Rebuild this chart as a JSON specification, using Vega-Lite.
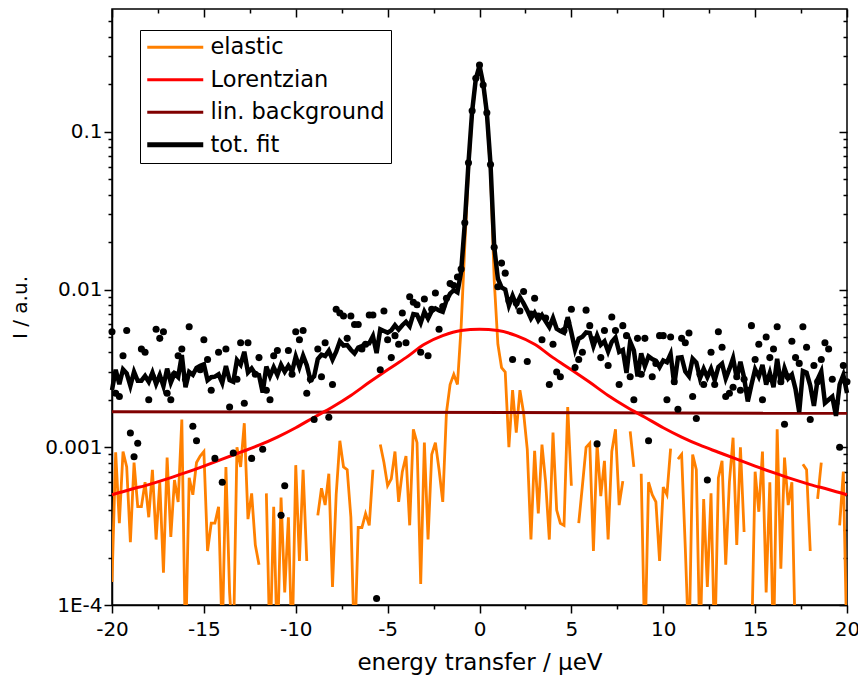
{
"$schema": "https://vega.github.io/schema/vega-lite/v6.json",
"width": 735, "height": 596,
"autosize": {"type": "none"},
"padding": {"left": 112, "top": 9, "right": 11, "bottom": 81},
"background": "white",
"datasets": {
"main": [
{"x":-20,"e":0.00014,"f":0.0023,"o":0.0054},
{"x":-19.8,"e":0.00093,"f":0.0031,"o":0.0022},
{"x":-19.6,"e":0.00033,"f":0.00251,"o":0.0021},
{"x":-19.4,"e":0.00094,"f":0.00312,"o":0.0038},
{"x":-19.2,"e":0.00075,"f":0.00294,"o":0.0055},
{"x":-19,"e":0.00025,"f":0.00245,"o":0.00123},
{"x":-18.8,"e":0.0008,"f":0.00301,"o":0.00087},
{"x":-18.6,"e":0.00042,"f":0.00264,"o":0.00106},
{"x":-18.4,"e":0.00042,"f":0.00264,"o":0.0042},
{"x":-18.2,"e":0.0006,"f":0.00283,"o":0.004},
{"x":-18,"e":0.00036,"f":0.0026,"o":0.002},
{"x":-17.8,"e":0.00072,"f":0.00297,"o":0.0028},
{"x":-17.6,"e":0.00026,"f":0.00252,"o":0.0056},
{"x":-17.4,"e":0.0006,"f":0.00287,"o":0.0049},
{"x":-17.2,"e":0.00016,"f":0.00244,"o":0.0054},
{"x":-17,"e":0.00086,"f":0.00315,"o":0.0022},
{"x":-16.8,"e":0.00027,"f":0.00257,"o":0.002},
{"x":-16.6,"e":0.00062,"f":0.00293,"o":0.0029},
{"x":-16.4,"e":0.00045,"f":0.00278,"o":0.0038},
{"x":-16.2,"e":0.0015,"f":0.00384,"o":0.0042},
{"x":-16,"e":0.00005,"f":0.0024,"o":0.0027},
{"x":-15.8,"e":0.00064,"f":0.003,"o":0.0058},
{"x":-15.6,"e":0.0005,"f":0.00288,"o":0.00136},
{"x":-15.4,"e":0.0008,"f":0.00319,"o":0.0011},
{"x":-15.2,"e":0.00088,"f":0.00329,"o":0.0031},
{"x":-15,"e":0.00094,"f":0.00336,"o":0.0048},
{"x":-14.8,"e":0.00022,"f":0.00266,"o":0.0036},
{"x":-14.6,"e":0.00033,"f":0.00278,"o":0.0023},
{"x":-14.4,"e":0.00033,"f":0.0028,"o":0.00085},
{"x":-14.2,"e":0.00042,"f":0.0029,"o":0.004},
{"x":-14,"e":0.00006,"f":0.00256,"o":0.0006},
{"x":-13.8,"e":0.00075,"f":0.00327,"o":0.0042},
{"x":-13.6,"e":0.00012,"f":0.00266,"o":0.0018},
{"x":-13.4,"e":0.00005,"f":0.0026,"o":0.00092},
{"x":-13.2,"e":0.001,"f":0.00357,"o":0.0027},
{"x":-13,"e":0.00075,"f":0.00334,"o":0.0046},
{"x":-12.8,"e":0.00142,"f":0.00403,"o":0.0019},
{"x":-12.6,"e":0.00035,"f":0.00298,"o":0.0046},
{"x":-12.4,"e":0.00051,"f":0.00316,"o":0.00085},
{"x":-12.2,"e":0.00024,"f":0.00291,"o":0.0029},
{"x":-12,"e":0.00018,"f":0.00287,"o":0.0037},
{"x":-11.8,"e":null,"f":0.00222,"o":0.00097},
{"x":-11.6,"e":0.00051,"f":0.00325,"o":0.0023},
{"x":-11.4,"e":0.00005,"f":0.00282,"o":0.002},
{"x":-11.2,"e":0.00042,"f":0.00321,"o":0.0038},
{"x":-11,"e":0.00005,"f":0.00287,"o":0.0041},
{"x":-10.8,"e":0.00048,"f":0.00333,"o":0.00037},
{"x":-10.6,"e":0.00012,"f":0.00301,"o":0.00057},
{"x":-10.4,"e":0.00036,"f":0.00328,"o":0.0041},
{"x":-10.2,"e":0.00005,"f":0.00301,"o":0.0029},
{"x":-10,"e":0.00077,"f":0.00376,"o":0.0054},
{"x":-9.8,"e":0.00019,"f":0.00322,"o":0.0048},
{"x":-9.6,"e":0.00072,"f":0.0038,"o":0.0055},
{"x":-9.4,"e":0.00019,"f":0.00331,"o":0.0022},
{"x":-9.2,"e":null,"f":0.00267,"o":0.0027},
{"x":-9,"e":null,"f":0.00281,"o":0.0015},
{"x":-8.8,"e":0.00037,"f":0.00363,"o":0.0042},
{"x":-8.6,"e":0.00055,"f":0.00386,"o":0.0028},
{"x":-8.4,"e":0.00043,"f":0.00379,"o":0.0046},
{"x":-8.2,"e":0.00068,"f":0.00409,"o":0.00155},
{"x":-8,"e":0.00013,"f":0.00359,"o":0.0025},
{"x":-7.8,"e":0.0005,"f":0.00403,"o":0.0075},
{"x":-7.6,"e":0.0011,"f":0.00469,"o":0.0071},
{"x":-7.4,"e":0.00075,"f":0.00441,"o":0.0068},
{"x":-7.2,"e":0.00072,"f":0.00444,"o":0.0049},
{"x":-7,"e":0.00036,"f":0.00415,"o":0.0068},
{"x":-6.8,"e":0.00005,"f":0.00393,"o":0.006},
{"x":-6.6,"e":0.00031,"f":0.00428,"o":0.006},
{"x":-6.4,"e":0.00031,"f":0.00437,"o":0.0042},
{"x":-6.2,"e":0.00038,"f":0.00453,"o":0.0045},
{"x":-6,"e":0.00032,"f":0.00456,"o":0.0069},
{"x":-5.8,"e":0.00072,"f":0.00506,"o":0.0069},
{"x":-5.6,"e":null,"f":0.00395,"o":0.00011},
{"x":-5.4,"e":0.00104,"f":0.00559,"o":0.0031},
{"x":-5.2,"e":0.0008,"f":0.00546,"o":0.0073},
{"x":-5,"e":0.00057,"f":0.00533,"o":0.0048},
{"x":-4.8,"e":0.00063,"f":0.00551,"o":0.0037},
{"x":-4.6,"e":0.00094,"f":0.00594,"o":0.0051},
{"x":-4.4,"e":0.00045,"f":0.00557,"o":0.0045},
{"x":-4.2,"e":0.0007,"f":0.00594,"o":0.0071},
{"x":-4,"e":0.00088,"f":0.00624,"o":0.0046},
{"x":-3.8,"e":0.00032,"f":0.00584,"o":0.009},
{"x":-3.6,"e":0.0013,"f":0.00698,"o":0.0083},
{"x":-3.4,"e":0.00107,"f":0.00691,"o":0.008},
{"x":-3.2,"e":0.000136,"f":0.00614,"o":0.004},
{"x":-3,"e":0.00107,"f":0.00723,"o":0.0087},
{"x":-2.8,"e":0.00026,"f":0.00654,"o":0.0038},
{"x":-2.6,"e":0.0009,"f":0.0073,"o":0.0075},
{"x":-2.4,"e":0.00107,"f":0.00759,"o":0.0095},
{"x":-2.2,"e":0.00072,"f":0.00736,"o":0.0056},
{"x":-2,"e":0.00045,"f":0.00721,"o":0.0078},
{"x":-1.8,"e":0.00166,"f":0.0085,"o":0.0088},
{"x":-1.6,"e":0.0025,"f":0.00942,"o":0.0109},
{"x":-1.4,"e":0.0029,"f":0.0099,"o":0.0106},
{"x":-1.2,"e":0.0025,"f":0.00958,"o":0.012},
{"x":-1,"e":0.0058,"f":0.01296,"o":0.0135},
{"x":-0.8,"e":0.019,"f":0.0262,"o":0.0265},
{"x":-0.6,"e":0.056,"f":0.0632,"o":0.0635},
{"x":-0.4,"e":0.128,"f":0.135,"o":0.136},
{"x":-0.2,"e":0.21,"f":0.217,"o":0.218},
{"x":0,"e":0.255,"f":0.262,"o":0.265},
{"x":0.2,"e":0.195,"f":0.202,"o":0.198},
{"x":0.4,"e":0.125,"f":0.132,"o":0.132},
{"x":0.6,"e":0.055,"f":0.0622,"o":0.062},
{"x":0.8,"e":0.0115,"f":0.0187,"o":0.0185},
{"x":1,"e":0.0045,"f":0.0117,"o":0.0104},
{"x":1.2,"e":0.0032,"f":0.0103,"o":0.0147},
{"x":1.4,"e":0.003,"f":0.01,"o":0.0127},
{"x":1.6,"e":0.001,"f":0.00792,"o":0.0085},
{"x":1.8,"e":0.0023,"f":0.00914,"o":0.0036},
{"x":2,"e":0.00124,"f":0.008,"o":0.0082},
{"x":2.2,"e":0.0023,"f":0.00894,"o":0.0073},
{"x":2.4,"e":0.00165,"f":0.00817,"o":0.0097},
{"x":2.6,"e":0.00097,"f":0.00737,"o":0.0035},
{"x":2.8,"e":0.00026,"f":0.00654,"o":0.007},
{"x":3,"e":0.00095,"f":0.00711,"o":0.0088},
{"x":3.2,"e":0.00038,"f":0.00638,"o":0.0068},
{"x":3.4,"e":0.00104,"f":0.00688,"o":0.0048},
{"x":3.6,"e":0.0006,"f":0.00628,"o":0.0066},
{"x":3.8,"e":0.00026,"f":0.00578,"o":0.0025},
{"x":4,"e":0.00124,"f":0.0066,"o":0.0045},
{"x":4.2,"e":0.0004,"f":0.00564,"o":0.003},
{"x":4.4,"e":0.00033,"f":0.00545,"o":0.0028},
{"x":4.6,"e":0.00032,"f":0.00532,"o":0.0055},
{"x":4.8,"e":0.0018,"f":0.00668,"o":0.0062},
{"x":5,"e":0.00057,"f":0.00533,"o":0.0075},
{"x":5.2,"e":null,"f":0.00416,"o":0.0032},
{"x":5.4,"e":0.00033,"f":0.00488,"o":0.0036},
{"x":5.6,"e":0.00057,"f":0.00502,"o":0.004},
{"x":5.8,"e":0.001,"f":0.00534,"o":0.0074},
{"x":6,"e":0.00106,"f":0.0053,"o":0.0059},
{"x":6.2,"e":0.00022,"f":0.00437,"o":0.0048},
{"x":6.4,"e":0.00105,"f":0.00511,"o":0.00105},
{"x":6.6,"e":0.00049,"f":0.00446,"o":0.0037},
{"x":6.8,"e":0.00082,"f":0.0047,"o":0.0055},
{"x":7,"e":0.00026,"f":0.00405,"o":0.0033},
{"x":7.2,"e":0.00094,"f":0.00466,"o":0.0067},
{"x":7.4,"e":0.0013,"f":0.00496,"o":0.0055},
{"x":7.6,"e":0.00043,"f":0.00402,"o":0.0025},
{"x":7.8,"e":0.00061,"f":0.00414,"o":0.0059},
{"x":8,"e":null,"f":0.00296,"o":0.0051},
{"x":8.2,"e":0.00126,"f":0.00467,"o":0.0028},
{"x":8.4,"e":0.00075,"f":0.00411,"o":0.002},
{"x":8.6,"e":null,"f":0.00281,"o":0.0049},
{"x":8.8,"e":0.00068,"f":0.00394,"o":0.0029},
{"x":9,"e":0.00005,"f":0.00326,"o":0.0049},
{"x":9.2,"e":0.0006,"f":0.00377,"o":0.0011},
{"x":9.4,"e":0.0005,"f":0.00362,"o":0.0028},
{"x":9.6,"e":0.00045,"f":0.00353,"o":0.0034},
{"x":9.8,"e":0.00019,"f":0.00322,"o":0.0051},
{"x":10,"e":0.00056,"f":0.00355,"o":0.0051},
{"x":10.2,"e":0.0005,"f":0.00346,"o":0.002},
{"x":10.4,"e":0.00098,"f":0.0039,"o":0.005},
{"x":10.6,"e":null,"f":0.00249,"o":0.0026},
{"x":10.8,"e":0.00084,"f":0.00369,"o":0.00174},
{"x":11,"e":0.0009,"f":0.00372,"o":0.0049},
{"x":11.2,"e":0.00023,"f":0.00302,"o":0.0046},
{"x":11.4,"e":0.00005,"f":0.00282,"o":0.0053},
{"x":11.6,"e":0.0009,"f":0.00364,"o":0.0021},
{"x":11.8,"e":0.00072,"f":0.00344,"o":0.00152},
{"x":12,"e":0.00005,"f":0.00274,"o":0.0029},
{"x":12.2,"e":0.00047,"f":0.00314,"o":0.0025},
{"x":12.4,"e":0.00013,"f":0.00278,"o":0.00062},
{"x":12.6,"e":0.00051,"f":0.00314,"o":0.004},
{"x":12.8,"e":0.00005,"f":0.00266,"o":0.0025},
{"x":13,"e":0.00064,"f":0.00323,"o":0.0054},
{"x":13.2,"e":0.00082,"f":0.00339,"o":0.0043},
{"x":13.4,"e":0.00018,"f":0.00273,"o":0.0021},
{"x":13.6,"e":0.0006,"f":0.00314,"o":0.0022},
{"x":13.8,"e":0.00115,"f":0.00367,"o":0.0024},
{"x":14,"e":0.00024,"f":0.00274,"o":0.0028},
{"x":14.2,"e":0.001,"f":0.00348,"o":0.0023},
{"x":14.4,"e":0.00029,"f":0.00276,"o":0.0027},
{"x":14.6,"e":null,"f":0.00195,"o":0.0023},
{"x":14.8,"e":0.00005,"f":0.00249,"o":0.0059},
{"x":15,"e":0.0007,"f":0.00312,"o":0.0036},
{"x":15.2,"e":0.00039,"f":0.0028,"o":0.0045},
{"x":15.4,"e":0.00094,"f":0.00333,"o":0.002},
{"x":15.6,"e":0.00012,"f":0.0025,"o":0.005},
{"x":15.8,"e":0.0006,"f":0.00296,"o":0.0037},
{"x":16,"e":0.00005,"f":0.0024,"o":0.0042},
{"x":16.2,"e":0.0013,"f":0.00364,"o":0.0058},
{"x":16.4,"e":0.00017,"f":0.0025,"o":0.0026},
{"x":16.6,"e":0.00086,"f":0.00317,"o":0.0014},
{"x":16.8,"e":0.00043,"f":0.00273,"o":0.0028},
{"x":17,"e":0.0006,"f":0.00289,"o":0.0047},
{"x":17.2,"e":0.00005,"f":0.00233,"o":0.0037},
{"x":17.4,"e":null,"f":0.00167,"o":0.0034},
{"x":17.6,"e":0.00078,"f":0.00304,"o":0.0058},
{"x":17.8,"e":0.00072,"f":0.00297,"o":0.0043},
{"x":18,"e":0.00022,"f":0.00246,"o":0.0015},
{"x":18.2,"e":null,"f":0.00183,"o":0.0033},
{"x":18.4,"e":0.00047,"f":0.00269,"o":0.0026},
{"x":18.6,"e":0.0008,"f":0.00302,"o":0.0036},
{"x":18.8,"e":null,"f":0.00191,"o":0.0046},
{"x":19,"e":null,"f":0.002,"o":0.0042},
{"x":19.2,"e":null,"f":0.00209,"o":0.0027},
{"x":19.4,"e":null,"f":0.00158,"o":0.0019},
{"x":19.6,"e":0.00032,"f":0.0025,"o":0.001},
{"x":19.8,"e":0.0007,"f":0.00287,"o":0.0033},
{"x":20,"e":0.00005,"f":0.00221,"o":0.0026}
],
"lor": [
{"x":-20,"l":0.0005},{"x":-19,"l":0.00054},{"x":-18,"l":0.00058},{"x":-17,"l":0.00063},{"x":-16,"l":0.00069},
{"x":-15,"l":0.00076},{"x":-14,"l":0.00084},{"x":-13,"l":0.00093},{"x":-12,"l":0.00103},{"x":-11,"l":0.00116},
{"x":-10,"l":0.00133},{"x":-9,"l":0.00155},{"x":-8,"l":0.0018},{"x":-7,"l":0.00213},{"x":-6,"l":0.00258},
{"x":-5,"l":0.0031},{"x":-4,"l":0.0037},{"x":-3,"l":0.0045},{"x":-2,"l":0.0051},{"x":-1,"l":0.0055},
{"x":0,"l":0.0056},
{"x":1,"l":0.0055},{"x":2,"l":0.0051},{"x":3,"l":0.0045},{"x":4,"l":0.0037},{"x":5,"l":0.0031},
{"x":6,"l":0.00258},{"x":7,"l":0.00213},{"x":8,"l":0.0018},{"x":9,"l":0.00155},{"x":10,"l":0.00133},
{"x":11,"l":0.00116},{"x":12,"l":0.00103},{"x":13,"l":0.00093},{"x":14,"l":0.00084},{"x":15,"l":0.00076},
{"x":16,"l":0.00069},{"x":17,"l":0.00063},{"x":18,"l":0.00058},{"x":19,"l":0.00054},{"x":20,"l":0.0005}
],
"bg": [{"x":-20,"b":0.00168},{"x":20,"b":0.00164}]
},
"config": {
"view": {"stroke": "black", "strokeWidth": 1.5},
"font": "DejaVu Sans",
"axis": {"grid": false, "domainColor": "black", "domainWidth": 1.5, "tickColor": "black", "tickWidth": 1.5, "labelColor": "black", "titleColor": "black", "labelFont": "DejaVu Sans", "titleFont": "DejaVu Sans", "labelFontSize": 20, "titleFontWeight": "normal"},
"legend": {"labelFont": "DejaVu Sans", "labelFontSize": 22.5, "labelColor": "black", "labelLimit": 400}
},
"resolve": {"axis": {"x": "independent", "y": "independent"}},
"layer": [
{
"data": {"name": "main"},
"mark": {"type": "line", "clip": true, "strokeWidth": 2.8},
"encoding": {
"x": {"field": "x", "type": "quantitative", "scale": {"domain": [-20, 20], "nice": false, "zero": false},
"axis": {"orient": "bottom", "values": [-20,-15,-10,-5,0,5,10,15,20], "labelExpr": "'' + datum.value", "tickSize": 8, "labelPadding": 6, "labelFlush": false, "title": "energy transfer / μeV", "titleFontSize": 23, "titlePadding": 12}},
"y": {"field": "e", "type": "quantitative", "scale": {"type": "log", "domain": [0.0001, 0.6], "nice": false},
"axis": {"orient": "left", "values": [0.0001, 0.001, 0.01, 0.1], "labelExpr": "datum.value < 0.0005 ? '1E-4' : datum.value < 0.005 ? '0.001' : datum.value < 0.05 ? '0.01' : '0.1'", "tickSize": 8, "labelPadding": 2, "title": "I / a.u.", "titleFontSize": 20, "titlePadding": 14}},
"color": {"datum": "elastic", "type": "nominal", "scale": {"domain": ["elastic", "Lorentzian", "lin. background", "tot. fit"], "range": ["#FF8000", "#FF0000", "#800000", "#000000"]},
"legend": {"orient": "none", "legendX": 28, "legendY": 21, "title": null, "strokeColor": "black", "fillColor": "white", "padding": 6, "rowPadding": 9.5, "labelOffset": 42, "symbolType": "M-1,0H4.6", "symbolSize": 400, "symbolStrokeWidth": 3,
"encode": {"symbols": {"update": {"strokeWidth": {"signal": "datum.value === 'tot. fit' ? 5 : 3"}}}}}}
}
},
{
"data": {"name": "bg"},
"mark": {"type": "line", "strokeWidth": 3},
"encoding": {
"x": {"field": "x", "type": "quantitative", "scale": {"domain": [-20, 20], "nice": false, "zero": false},
"axis": {"orient": "bottom", "values": [-17.5,-12.5,-7.5,-2.5,2.5,7.5,12.5,17.5], "tickSize": 4, "labels": false, "domain": false, "title": null}},
"y": {"field": "b", "type": "quantitative", "scale": {"type": "log", "domain": [0.0001, 0.6], "nice": false},
"axis": {"orient": "left", "values": [0.0002,0.0003,0.0004,0.0005,0.0006,0.0007,0.0008,0.0009,0.002,0.003,0.004,0.005,0.006,0.007,0.008,0.009,0.02,0.03,0.04,0.05,0.06,0.07,0.08,0.09,0.2,0.3,0.4,0.5], "tickSize": 4, "labels": false, "domain": false, "title": null}},
"color": {"datum": "lin. background", "type": "nominal"}
}
},
{
"data": {"name": "lor"},
"mark": {"type": "line", "interpolate": "monotone", "strokeWidth": 3},
"encoding": {
"x": {"field": "x", "type": "quantitative", "scale": {"domain": [-20, 20], "nice": false, "zero": false},
"axis": {"orient": "top", "offset": -8, "values": [-20,-15,-10,-5,0,5,10,15,20], "tickSize": 8, "labels": false, "domain": false, "title": null}},
"y": {"field": "l", "type": "quantitative", "scale": {"type": "log", "domain": [0.0001, 0.6], "nice": false},
"axis": {"orient": "right", "offset": -8, "values": [0.0001, 0.001, 0.01, 0.1], "tickSize": 8, "labels": false, "domain": false, "title": null}},
"color": {"datum": "Lorentzian", "type": "nominal"}
}
},
{
"data": {"name": "main"},
"mark": {"type": "line", "strokeWidth": 4.5},
"encoding": {
"x": {"field": "x", "type": "quantitative", "scale": {"domain": [-20, 20], "nice": false, "zero": false},
"axis": {"orient": "top", "offset": -4, "values": [-17.5,-12.5,-7.5,-2.5,2.5,7.5,12.5,17.5], "tickSize": 4, "labels": false, "domain": false, "title": null}},
"y": {"field": "f", "type": "quantitative", "scale": {"type": "log", "domain": [0.0001, 0.6], "nice": false},
"axis": {"orient": "right", "offset": -4, "values": [0.0002,0.0003,0.0004,0.0005,0.0006,0.0007,0.0008,0.0009,0.002,0.003,0.004,0.005,0.006,0.007,0.008,0.009,0.02,0.03,0.04,0.05,0.06,0.07,0.08,0.09,0.2,0.3,0.4,0.5], "tickSize": 4, "labels": false, "domain": false, "title": null}},
"color": {"datum": "tot. fit", "type": "nominal"}
}
},
{
"data": {"name": "main"},
"mark": {"type": "point", "filled": true, "color": "black", "opacity": 1, "size": 50},
"encoding": {
"x": {"field": "x", "type": "quantitative", "scale": {"domain": [-20, 20], "nice": false, "zero": false}, "axis": null},
"y": {"field": "o", "type": "quantitative", "scale": {"type": "log", "domain": [0.0001, 0.6], "nice": false}, "axis": null}
}
}
]
}
